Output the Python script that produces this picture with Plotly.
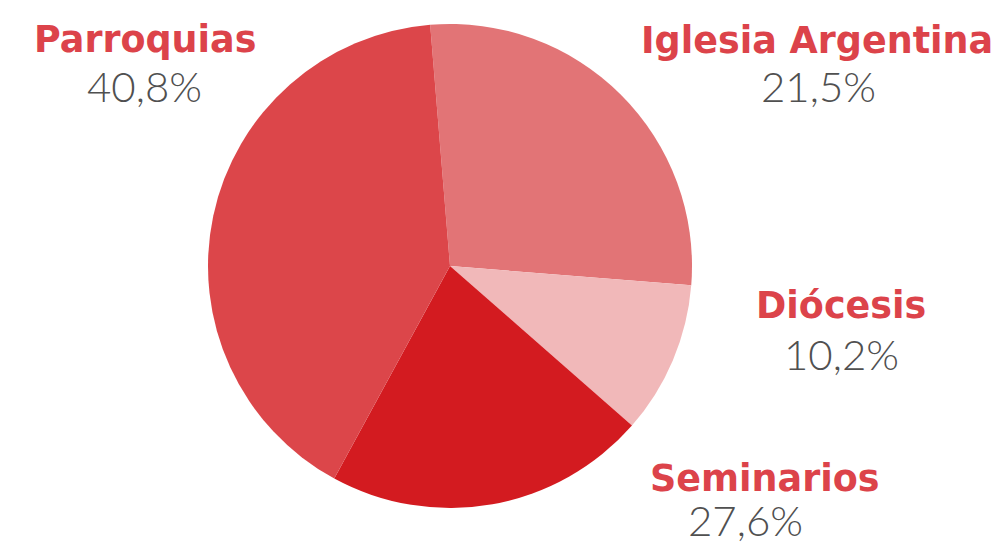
import plotly.graph_objects as go

categories = ["Iglesia Argentina", "Diócesis", "Seminarios", "Parroquias"]
slice_values = [27.6, 10.2, 21.5, 40.8]
label_pcts = ["21,5%", "10,2%", "27,6%", "40,8%"]
colors = ["#E27476", "#F1B8B9", "#D31B20", "#DC464A"]

W, H = 999, 545
# label centres in pixels (name, percentage)
name_px = [(809, 38), (833, 303), (757, 476), (137, 37)]
pct_px = [(810, 82), (833, 350), (737, 516), (136, 82)]

fig = go.Figure()
fig.add_trace(go.Pie(
    labels=categories, values=slice_values, sort=False, direction="clockwise",
    rotation=-4.7, marker=dict(colors=colors, line=dict(width=0)),
    textinfo="none", hoverinfo="label+percent", showlegend=False,
    domain=dict(x=[200/W, 684/W], y=[45/H, 529/H]),
))

NAME_OFF = 6   # px: box middle sits above cap centre
PCT_OFF = 4
for cat, pct, (nx, ny), (px, py) in zip(categories, label_pcts, name_px, pct_px):
    fig.add_annotation(x=nx / W, y=1 - (ny - NAME_OFF) / H, xref="paper", yref="paper", showarrow=False,
                       text=cat, font=dict(family="DejaVu Sans", size=36.5, color="#DC434A", weight="bold"),
                       xanchor="center", yanchor="middle", borderpad=0)
    fig.add_annotation(x=px / W, y=1 - (py - PCT_OFF) / H, xref="paper", yref="paper", showarrow=False,
                       text=pct, font=dict(family="Lato", size=42, color="#505050", weight=300),
                       xanchor="center", yanchor="middle", borderpad=0)

fig.update_layout(width=W, height=H, margin=dict(l=0, r=0, t=0, b=0),
                  paper_bgcolor="white", plot_bgcolor="white")
fig.write_html("out.html")
